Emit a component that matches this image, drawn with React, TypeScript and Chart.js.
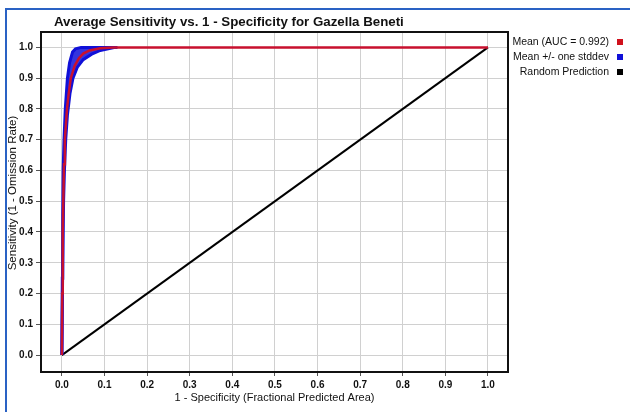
import React, { useEffect, useRef } from "react";
import { Chart, registerables } from "chart.js";

Chart.register(...registerables);

const TITLE = "Average Sensitivity vs. 1 - Specificity for Gazella Beneti";
const X_TITLE = "1 - Specificity (Fractional Predicted Area)";
const Y_TITLE = "Sensitivity (1 - Omission Rate)";
const LEGEND_LABELS = ["Mean (AUC = 0.992)", "Mean +/- one stddev", "Random Prediction"];
const LEGEND_COLORS = ["#d0101c", "#1010d8", "#000000"];

const TICKS = [0, 0.1, 0.2, 0.3, 0.4, 0.5, 0.6, 0.7, 0.8, 0.9, 1.0];

const meanX = [0, 0.001, 0.002, 0.004, 0.005, 0.007, 0.012, 0.016, 0.021, 0.03, 0.04, 0.05, 0.065, 0.09, 0.12, 1.0];
const meanY = [0, 0.2, 0.4, 0.55, 0.62, 0.7, 0.8, 0.85, 0.9, 0.94, 0.965, 0.98, 0.99, 0.997, 1.0, 1.0];

const upperX = [0, 0.001, 0.002, 0.003, 0.005, 0.008, 0.013, 0.018, 0.025, 0.032, 0.045, 0.13];
const upperY = [0, 0.25, 0.45, 0.6, 0.7, 0.8, 0.9, 0.95, 0.985, 0.995, 1.0, 1.0];

const lowerX = [0, 0.002, 0.004, 0.006, 0.009, 0.013, 0.019, 0.026, 0.036, 0.05, 0.07, 0.09, 0.125, 0.13];
const lowerY = [0, 0.3, 0.5, 0.6, 0.7, 0.78, 0.85, 0.9, 0.935, 0.96, 0.978, 0.99, 1.0, 1.0];

const randX = [0, 1];
const randY = [0, 1];

const FONT = "'Liberation Sans', Arial, sans-serif";

const pts = (xs: number[], ys: number[]) => xs.map((x, i) => ({ x, y: ys[i] }));

const decorPlugin = {
  id: "decor",
  afterDatasetsDraw(chart: any) {
    const { ctx, chartArea } = chart;
    const { left, right, top, bottom } = chartArea;
    ctx.save();
    ctx.strokeStyle = "#111";
    ctx.lineWidth = 2;
    ctx.strokeRect(left, top, right - left, bottom - top);
    ctx.restore();
  },
  afterDraw(chart: any) {
    const { ctx, chartArea } = chart;
    const { left, right } = chartArea;
    ctx.save();
    ctx.fillStyle = "#111";
    ctx.font = `bold 13.3px ${FONT}`;
    ctx.textAlign = "left";
    ctx.textBaseline = "middle";
    ctx.fillText(TITLE, 54, 22);
    ctx.font = `11px ${FONT}`;
    ctx.textAlign = "center";
    ctx.fillText(X_TITLE, (left + right) / 2, 398);
    ctx.save();
    ctx.translate(13, 193);
    ctx.rotate(-Math.PI / 2);
    ctx.font = `11.5px ${FONT}`;
    ctx.fillText(Y_TITLE, 0, 0);
    ctx.restore();
    ctx.font = `10.5px ${FONT}`;
    ctx.textAlign = "right";
    const rows = [42, 57, 72];
    LEGEND_LABELS.forEach((lab, i) => {
      ctx.fillStyle = "#111";
      ctx.fillText(lab, 609, rows[i]);
      ctx.fillStyle = LEGEND_COLORS[i];
      ctx.fillRect(617, rows[i] - 3, 6, 6);
    });
    ctx.restore();
  },
};

export default function App() {
  const ref = useRef<HTMLCanvasElement | null>(null);
  useEffect(() => {
    if (!ref.current) return;
    const chart = new Chart(ref.current, {
      type: "scatter",
      data: {
        datasets: [
          {
            label: LEGEND_LABELS[0],
            data: pts(meanX, meanY),
            showLine: true,
            borderColor: "#c8102e",
            borderWidth: 2.5,
            pointRadius: 0,
          },
          {
            label: "upper",
            data: pts(upperX, upperY),
            showLine: true,
            borderColor: "#1010d8",
            backgroundColor: "rgba(16,16,216,0.85)",
            borderWidth: 3,
            pointRadius: 0,
            fill: "+1",
          },
          {
            label: "lower",
            data: pts(lowerX, lowerY),
            showLine: true,
            borderColor: "#1010d8",
            borderWidth: 3,
            pointRadius: 0,
          },
          {
            label: LEGEND_LABELS[2],
            data: pts(randX, randY),
            showLine: true,
            borderColor: "#000",
            borderWidth: 2,
            pointRadius: 0,
          },
        ],
      },
      options: {
        animation: false,
        responsive: false,
        devicePixelRatio: 1,
        layout: { padding: { left: 0, top: 32, right: 122, bottom: 0 } },
        plugins: {
          legend: { display: false },
          title: { display: false },
          tooltip: { enabled: false },
        },
        scales: {
          x: {
            type: "linear",
            min: -0.049,
            max: 1.047,
            afterBuildTicks: (s: any) => {
              s.ticks = TICKS.map((v) => ({ value: v }));
            },
            afterFit: (s: any) => {
              s.height = 40;
            },
            grid: {
              color: "#d0d0d0",
              lineWidth: 1,
              tickColor: "#555",
              tickLength: 4,
              drawTicks: true,
            },
            border: { display: false },
            ticks: {
              color: "#111",
              padding: 3,
              maxRotation: 0,
              autoSkip: false,
              font: { family: FONT, size: 10, weight: "bold" },
              callback: (v: any) => Number(v).toFixed(1),
            },
          },
          y: {
            type: "linear",
            min: -0.055,
            max: 1.05,
            afterBuildTicks: (s: any) => {
              s.ticks = TICKS.map((v) => ({ value: v }));
            },
            afterFit: (s: any) => {
              s.width = 41;
            },
            grid: {
              color: "#d0d0d0",
              lineWidth: 1,
              tickColor: "#555",
              tickLength: 5,
              drawTicks: true,
            },
            border: { display: false },
            ticks: {
              color: "#111",
              padding: 3,
              autoSkip: false,
              font: { family: FONT, size: 10, weight: "bold" },
              callback: (v: any) => Number(v).toFixed(1),
            },
          },
        },
      },
      plugins: [decorPlugin],
    } as any);
    return () => chart.destroy();
  }, []);

  return (
    <div style={{ position: "fixed", left: 0, top: 0, width: 630, height: 412, background: "#fff" }}>
      <div style={{ position: "absolute", left: 5, top: 8, width: 625, height: 2, background: "#2a62c4" }} />
      <div style={{ position: "absolute", left: 5, top: 8, width: 2, height: 404, background: "#2a62c4" }} />
      <canvas ref={ref} width={630} height={412} style={{ position: "absolute", left: 0, top: 0, width: 630, height: 412 }} />
    </div>
  );
}
